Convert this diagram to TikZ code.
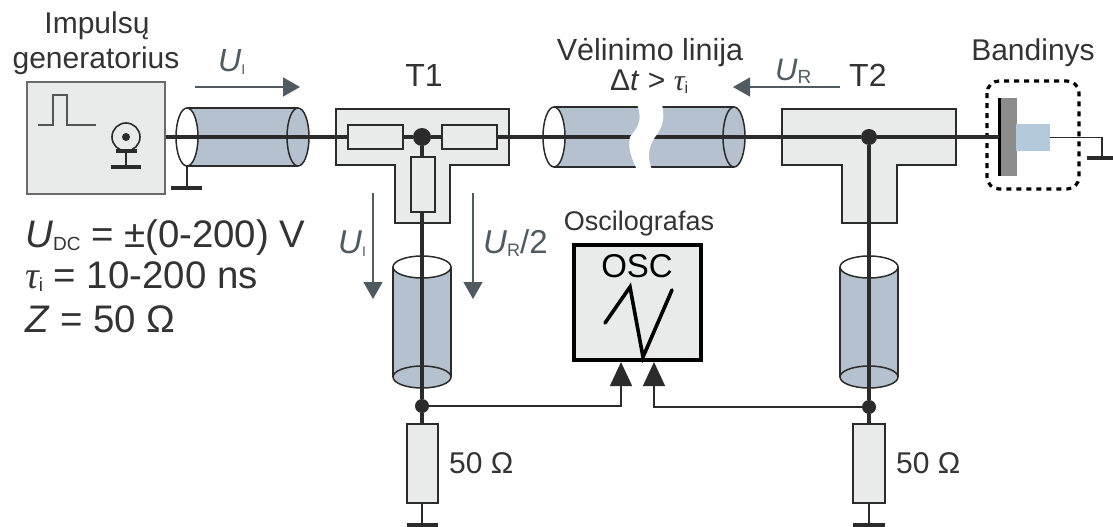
\documentclass[tikz,border=0pt]{standalone}
\usepackage{fontspec}
\setmainfont{Liberation Sans}
\newfontfamily\serifgr{Liberation Serif}
\usetikzlibrary{arrows.meta}
\definecolor{boxfill}{HTML}{E9EBEA}
\definecolor{cable}{HTML}{B5C1CE}
\definecolor{ink}{HTML}{2B2B2B}
\definecolor{slate}{HTML}{4F5B60}
\definecolor{txt}{HTML}{333333}
\definecolor{sample}{HTML}{B4C9D9}
\newcommand\fs[1]{\fontsize{#1}{#1}\selectfont}
\newcommand\lowtxt[2]{\raisebox{-3pt}{\fs{#1}#2}}
\newcommand\hcable[4]{% x1 x2 ytop ybot
  \path[cablebody] (#1,#3) rectangle (#2,#4);
  \draw[cableline] (#1,#3) -- (#2,#3) (#1,#4) -- (#2,#4);
}
\tikzset{
  x=1pt,y=-1pt,
  lbl/.style={inner sep=0pt,text=txt,anchor=base},
  lblw/.style={inner sep=0pt,text=txt,anchor=base west},
  grey/.style={inner sep=0pt,text=slate,anchor=base west},
  panel/.style={draw=ink,line width=1.5pt,fill=boxfill},
  res/.style={draw=ink,line width=1.6pt,fill=boxfill,inner sep=0pt,rectangle},
  wire/.style={draw=ink,line width=3.4pt},
  thin wire/.style={draw=ink!80,line width=1.5pt},
  dotn/.style={circle,fill=ink,inner sep=0pt},
  cablebody/.style={fill=cable},
  cableline/.style={draw=ink,line width=1.5pt},
  bar/.style={draw=ink,line width=3.8pt},
  flow/.style={draw=slate,line width=1.4pt,-{Triangle[length=17pt,width=19pt]}},
  input/.style={draw=ink,line width=1.4pt,-{Triangle[length=24pt,width=22pt]}},
}
\begin{document}
\begin{tikzpicture}
\useasboundingbox (0,0) rectangle (1113,527);

% texts
\node[lbl] (timp) at (97,34) {\fs{30}Impulsų};
\node[lbl] (tgen) at (96,68) {\fs{30}generatorius};
\node[lbl] (tt1) at (424,86) {\fs{32}T1};
\node[lbl] (tvel) at (650,60) {\fs{30.5}Vėlinimo linija};
\node[lblw] (tdt) at (610,90) {\fs{30}Δ\textit{t} > {\serifgr\itshape τ}\lowtxt{16}{i}};
\node[lblw] (tt2) at (849,86) {\fs{32}T2};
\node[lbl] (tban) at (1033,60) {\fs{30}Bandinys};
\node[lbl] (tosc) at (639,230) {\fs{27}Oscilografas};
\node[lblw] (tui) at (218,71) {\fs{32}\color{slate}\textit{U}\lowtxt{14}{I}};
\node[lblw] (tur) at (775,80) {\fs{31}\color{slate}\textit{U}\lowtxt{19}{R}};
\node[grey] (tuiv) at (338,253) {\fs{33}\textit{U}\lowtxt{14}{I}};
\node[grey] (turv) at (483,253) {\fs{33}\textit{U}\lowtxt{18}{R}/2};
\node[lblw] (p1) at (25,247) {\fs{38.4}\textit{U}\lowtxt{19}{DC} = ±(0-200) V};
\node[lblw] (p2) at (25,288) {\fs{38.4}{\serifgr\itshape τ}\lowtxt{19}{i} = 10-200 ns};
\node[lblw] (p3) at (25,332) {\fs{38.4}\textit{Z} = 50 Ω};

% generator
\node[panel,rectangle,inner sep=0pt,minimum width=138pt,minimum height=112pt,draw=ink!70] (gen) at (96,138) {};
\draw[thin wire] (38,125) -- (53,125) -- (53,95) -- (67,95) -- (67,125) -- (96,125);
\node[circle,draw=ink,line width=1.6pt,minimum size=28pt,inner sep=0pt] (port) at (126,137) {};
\node[dotn,minimum size=8pt] (portc) at (126,137) {};
\coordinate (portg) at (126,167);
\draw[bar] (116,151) -- (137,151);
\draw[thin wire,draw=ink] (port.south) -- (portg);
\draw[bar] (111,167) -- (141,167);

% T-pieces
\draw[panel] (336,109) -- (509,109) -- (509,165) -- (450,165) -- (450,223) -- (395,223) -- (395,165) -- (336,165) -- cycle;
\draw[panel] (782,109) -- (956,109) -- (956,165) -- (897,165) -- (897,223) -- (842,223) -- (842,165) -- (782,165) -- cycle;

% cable bodies
\hcable{187}{298}{108}{166}
\hcable{554}{734}{107}{167}
\path[cablebody] (393,267) rectangle (451,377);
\path[cablebody] (840,267) rectangle (898,377);
\draw[cableline] (393,267) -- (393,377) (451,267) -- (451,377);
\draw[cableline] (840,267) -- (840,377) (898,267) -- (898,377);
% cable ends drawn below the wires
\draw[cableline,fill=white] (187,137) ellipse [x radius=11,y radius=29];
\draw[cableline,fill=cable] (298,137) ellipse [x radius=11,y radius=29];
\draw[cableline,fill=white] (554,137) ellipse [x radius=11,y radius=30];
\draw[cableline,fill=cable] (734,137) ellipse [x radius=11,y radius=30];
\draw[cableline,fill=white] (422,267) ellipse [x radius=29,y radius=11];
\draw[cableline,fill=cable] (422,377) ellipse [x radius=29,y radius=11];
\draw[cableline,fill=white] (869,267) ellipse [x radius=29,y radius=11];
\draw[cableline,fill=cable] (869,377) ellipse [x radius=29,y radius=11];

% components
\node[res,minimum width=55pt,minimum height=24pt] (rl) at (375.5,137) {};
\node[res,minimum width=55pt,minimum height=24pt] (rr) at (469.5,137) {};
\node[res,minimum width=24pt,minimum height=55pt] (rv) at (423,184.5) {};
\node[dotn,minimum size=18pt] (d1) at (422,137) {};
\node[dotn,minimum size=16pt] (d2) at (869,137) {};
\node[dotn,minimum size=14pt] (d3) at (422,406) {};
\node[dotn,minimum size=14pt] (d4) at (869,407) {};
\node[res,minimum width=31pt,minimum height=79pt] (r3) at (422.5,463.5) {};
\node[res,minimum width=32pt,minimum height=79pt] (r4) at (869,463.5) {};
\node[lblw] (o1) at (449,473) {\fs{30}50 Ω};
\node[lblw] (o2) at (896,473) {\fs{30}50 Ω};

% sample
\node[rectangle,fill=black!45,inner sep=0pt,minimum width=17pt,minimum height=78pt] (sub) at (1008,137) {};
\node[rectangle,fill=sample,inner sep=0pt,minimum width=34pt,minimum height=27pt] (film) at (1033,137.5) {};
\draw[draw=black,line width=2.6pt] (sub.north west) -- (sub.south west);
\draw[draw=black,line width=3.2pt,dash pattern=on 5pt off 5pt,rounded corners=12pt] (987,81) rectangle (1079,189);

% grounds
\coordinate (g1) at (187,188);
\coordinate (g1t) at (187,166);
\coordinate (g3) at (422,525);
\coordinate (g4) at (869,525);
\coordinate (g5) at (1102,158);
\draw[thin wire,draw=ink] (g1t) -- (g1);
\draw[bar] (171,188) -- (202,188);
\draw[thin wire,draw=ink] (r3.south -| g3) -- (g3);
\draw[bar] (407,525) -- (438,525);
\draw[thin wire,draw=ink] (r4.south -| g4) -- (g4);
\draw[bar] (853,525) -- (885,525);
\draw[thin wire,draw=ink] (film.east) -- (film.east -| g5) -- (g5);
\draw[bar] (1087,158) -- (1113,158);

% wires
\draw[wire] (gen.east |- d1) -- (rl.west);
\draw[wire] (rl.east) -- (d1);
\draw[wire] (d1) -- (rr.west);
\draw[wire] (rr.east) -- (d2);
\draw[wire] (d2) -- (sub.west);
\draw[wire] (d1) -- (d1 |- rv.north);
\draw[wire] (d1 |- rv.south) -- (d3);
\draw[wire] (d3) -- (d3 |- r3.north);
\draw[wire] (d2) -- (d4);
\draw[wire] (d4) -- (d4 |- r4.north);

% break in the delay line
\fill[white] (637,104)
  .. controls (642,118) and (640,125) .. (630,137)
  .. controls (627,150) and (633,160) .. (637,170)
  -- (652,170)
  .. controls (647,158) and (648,148) .. (655,137)
  .. controls (665,125) and (664,115) .. (662,104) -- cycle;

% oscilloscope
\node[rectangle,draw=black,line width=4pt,fill=boxfill,inner sep=0pt,minimum width=127pt,minimum height=115pt] (osc) at (637.5,302.5) {};
\node[lbl,text=black] (tscope) at (637,277) {\fs{33}OSC};
\draw[draw=black,line width=3.6pt,line join=miter,line cap=round] (605,323) -- (630,287) -- (643,357) -- (672,290);

% arrows
\coordinate (a1) at (195,87); \coordinate (a2) at (300,87);
\coordinate (b1) at (840,87); \coordinate (b2) at (733,87);
\coordinate (c1) at (373,193); \coordinate (c2) at (373,299);
\coordinate (e1) at (473,193); \coordinate (e2) at (473,299);
\draw[flow] (a1) -- (a2);
\draw[flow] (b1) -- (b2);
\draw[flow] (c1) -- (c2);
\draw[flow] (e1) -- (e2);
\coordinate (i1) at (621,362);
\coordinate (i2) at (654,362);
\draw[input] (d3) -- (d3 -| i1) -- (i1);
\draw[input] (d4) -- (d4 -| i2) -- (i2);
\end{tikzpicture}
\end{document}
